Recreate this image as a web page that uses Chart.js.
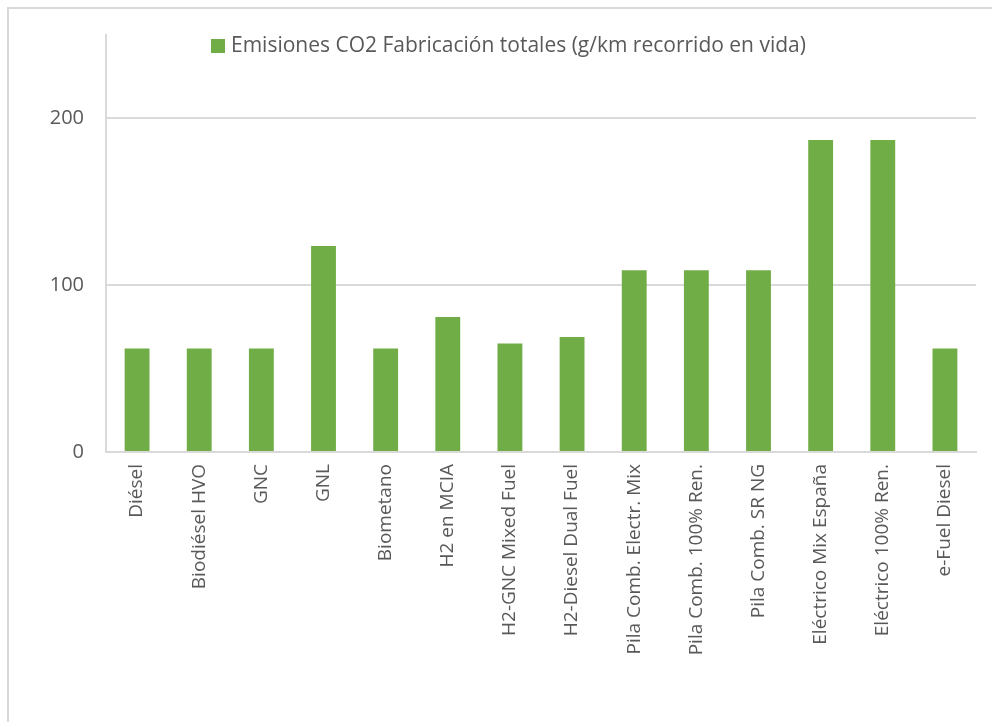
<!DOCTYPE html>
<html>
<head>
<meta charset="utf-8">
<script src="https://cdn.jsdelivr.net/npm/chart.js@4"></script>
<style>
  html, body { margin: 0; padding: 0; background: #fff; overflow: hidden; }
  #marco {
    position: absolute; left: 7px; top: 7px; width: 1000px; height: 740px;
    border: 2px solid #d9d9d9; box-sizing: border-box;
  }
  #wrap { position: absolute; left: 0; top: 0; width: 992px; height: 722px; }
</style>
</head>
<body>
<div id="marco"></div>
<div id="wrap"><canvas id="grafico" width="992" height="722"></canvas></div>
<script>
// Datos del gráfico
const categorias = [
  'Diésel', 'Biodiésel HVO', 'GNC', 'GNL', 'Biometano', 'H2 en MCIA',
  'H2-GNC Mixed Fuel', 'H2-Diesel Dual Fuel', 'Pila Comb. Electr. Mix',
  'Pila Comb. 100% Ren.', 'Pila Comb. SR NG', 'Eléctrico Mix España',
  'Eléctrico 100% Ren.', 'e-Fuel Diesel'
];
const emisiones = [62, 62, 62, 123.5, 62, 81, 65, 69, 109, 109, 109, 187, 187, 62];
const serieNombre = 'Emisiones CO2 Fabricación totales (g/km recorrido en vida)';
const ticksY = [0, 100, 200];

const VERDE = '#70ad47';
const GRIS = '#d9d9d9';
const TEXTO = '#595959';
const FUENTE = "'Open Sans', sans-serif";

// Leyenda dibujada dentro del área de trazado
const leyenda = {
  id: 'leyenda',
  afterDraw(chart) {
    const ctx = chart.ctx;
    const ds = chart.data.datasets[0];
    ctx.save();
    ctx.fillStyle = ds.backgroundColor;
    ctx.fillRect(211, 39, 14, 14);
    ctx.fillStyle = TEXTO;
    ctx.font = '21px ' + FUENTE;
    ctx.textBaseline = 'middle';
    ctx.fillText(ds.label, 231, 46.5);
    ctx.restore();
  }
};

new Chart(document.getElementById('grafico'), {
  type: 'bar',
  data: {
    labels: categorias,
    datasets: [{
      label: serieNombre,
      data: emisiones,
      backgroundColor: VERDE,
      categoryPercentage: 1,
      barPercentage: 0.4
    }]
  },
  options: {
    responsive: false,
    animation: false,
    layout: { padding: { top: 35, right: 16, left: 0, bottom: 0 } },
    plugins: {
      legend: { display: false },
      tooltip: { enabled: false }
    },
    scales: {
      x: {
        grid: { display: false, drawTicks: false },
        border: { color: GRIS, width: 2 },
        ticks: {
          color: TEXTO,
          font: { family: FUENTE, size: 19 },
          minRotation: 90, maxRotation: 90,
          padding: 12
        },
        afterFit(scale) { scale.height = 270; }
      },
      y: {
        min: 0, max: 250,
        grid: { color: GRIS, lineWidth: 2, drawTicks: false },
        border: { color: GRIS, width: 2 },
        ticks: {
          stepSize: 100,
          color: TEXTO,
          font: { family: FUENTE, size: 20 },
          padding: 22
        },
        afterBuildTicks(scale) {
          scale.ticks = ticksY.map(v => ({ value: v }));
        },
        afterFit(scale) { scale.width = 106; }
      }
    }
  },
  plugins: [leyenda]
});
</script>
</body>
</html>
